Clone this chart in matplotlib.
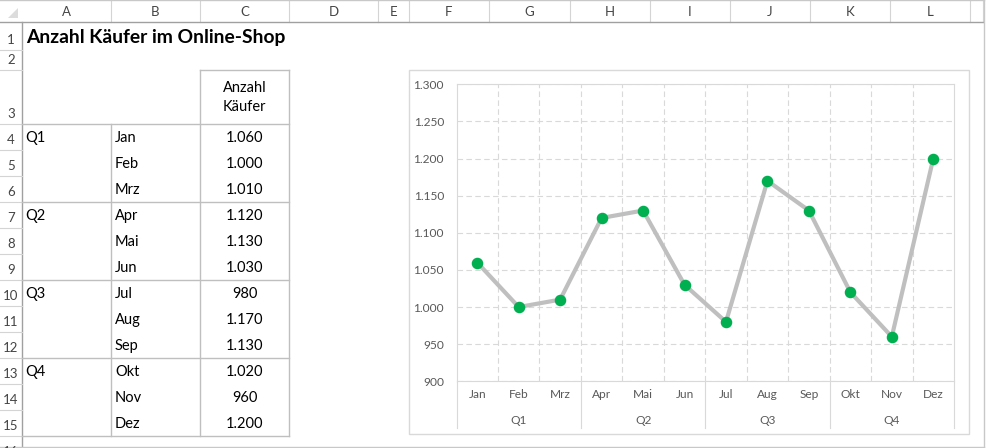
import matplotlib
matplotlib.use("Agg")
import matplotlib.pyplot as plt
import matplotlib.transforms as mtransforms
from matplotlib.patches import Rectangle, Polygon

plt.rcParams['font.family'] = ['Lato', 'DejaVu Sans']

# data
title = "Anzahl Käufer im Online-Shop"
header = ["Anzahl", "Käufer"]
quarters = ["Q1", "Q2", "Q3", "Q4"]
months = ["Jan", "Feb", "Mrz", "Apr", "Mai", "Jun",
          "Jul", "Aug", "Sep", "Okt", "Nov", "Dez"]
buyers = [1060, 1000, 1010, 1120, 1130, 1030,
          980, 1170, 1130, 1020, 960, 1200]
col_letters = ["A", "B", "C", "D", "E", "F", "G", "H", "I", "J", "K", "L"]
y_ticks = [900, 950, 1000, 1050, 1100, 1150, 1200, 1250, 1300]


def de(v):
    return "{:,}".format(v).replace(",", ".")


W, H = 986, 448
fig = plt.figure(figsize=(W / 100, H / 100), dpi=100)
bg = fig.add_axes([0, 0, 1, 1])
bg.set_xlim(0, W)
bg.set_ylim(H, 0)
bg.axis("off")

# sheet geometry (pixels)
col_edges = [22, 111, 200, 289, 378, 409, 489, 570, 650, 730, 810, 890, 970]
row_edges = [22, 50, 70, 123.7, 149.7, 175.7, 201.7, 227.7, 253.7, 279.7,
             305.7, 331.7, 357.7, 383.7, 409.7, 435.7, 461.7]
light = "#d4d4d4"
dark = "#a0a0a0"
hdr_txt = "#444444"

# column header
for i, c in enumerate(col_letters):
    bg.text((col_edges[i] + col_edges[i + 1]) / 2, 12.5, c, ha="center",
            va="center", fontsize=9.5, color=hdr_txt)
for x in col_edges[1:] + [983]:
    bg.plot([x, x], [1, 22], color=light, lw=0.8)
bg.plot([0, 983], [22, 22], color=dark, lw=1)
bg.plot([22, 22], [22, 448], color=dark, lw=1)
bg.add_patch(Polygon([[18, 8], [18, 18], [8, 18]], closed=True,
                     color="#dcdcdc", lw=0))
# row header (last row is only partly visible)
for r in range(len(row_edges) - 1):
    top, bot = row_edges[r], row_edges[r + 1]
    bg.plot([0, 22], [bot, bot], color=light, lw=0.8)
    yy = bot - 9.5 if r < 15 else 446
    bg.text(11, yy, str(r + 1), ha="center",
            va="center" if r < 15 else "top",
            fontsize=9.5, color=hdr_txt, clip_on=True)
# window frame
bg.plot([0, 984], [0.5, 0.5], color="#c8c8c8", lw=1)
bg.plot([984, 984], [0, 447], color="#c8c8c8", lw=1)
bg.plot([0, 984], [447, 447], color="#c8c8c8", lw=1)

# title
bg.text(26, 38, title, ha="left", va="center", fontsize=13.9,
        fontweight="bold", color="black")

# table
tbl = "#bfbfbf"
c_left, c_right = col_edges[2], col_edges[3]
c_mid = (c_left + c_right) / 2
bg.text(c_mid, 88, header[0], ha="center", va="center", fontsize=10.5)
bg.text(c_mid, 107, header[1], ha="center", va="center", fontsize=10.5)
bg.plot([c_left, c_right], [70, 70], color=tbl, lw=1)
bg.plot([c_left, c_left], [70, 435.7], color=tbl, lw=1)
bg.plot([c_right, c_right], [70, 435.7], color=tbl, lw=1)
bg.plot([col_edges[1], col_edges[1]], [123.7, 435.7], color=tbl, lw=1)
for q in range(len(quarters)):
    y0 = row_edges[3 + 3 * q]
    bg.plot([22, c_right], [y0, y0], color=tbl, lw=1)
bg.plot([22, c_right], [435.7, 435.7], color=tbl, lw=1)
for i, m in enumerate(months):
    bot = row_edges[4 + i]
    if i % 3 == 0:
        bg.text(25, bot - 12, quarters[i // 3], ha="left", va="center",
                fontsize=10.5)
    bg.text(115, bot - 12, m, ha="left", va="center", fontsize=10.5)
    bg.text(c_mid, bot - 12, de(buyers[i]), ha="center", va="center",
            fontsize=10.5)

# chart frame
bg.add_patch(Rectangle((409, 70.5), 560, 364, fill=False,
                       edgecolor="#d9d9d9", lw=1))

# plot area
pl, pr, pt, pb = 456.5, 954, 84.3, 381.3
ax = fig.add_axes([pl / W, (H - pb) / H, (pr - pl) / W, (pb - pt) / H])
x = list(range(len(months)))
ax.plot(x, buyers, color="#bfbfbf", lw=3, solid_capstyle="butt", zorder=3)
ax.plot(x, buyers, "o", color="#00b050", markersize=7.3, mec="#00b050",
        zorder=4)
ax.set_xlim(-0.5, len(months) - 0.5)
ax.set_ylim(y_ticks[0], y_ticks[-1])
ax.set_yticks(y_ticks)
ax.set_yticklabels([de(v) for v in y_ticks])
ax.set_xticks(x)
ax.set_xticklabels(months)
ax.set_xticks([i + 0.5 for i in x[:-1]], minor=True)
ax.tick_params(axis="both", which="both", length=0, labelsize=8.6,
               labelcolor="#595959")
ax.tick_params(axis="y", pad=9)
ax.tick_params(axis="x", pad=5.5)
ax.grid(True, axis="y", which="major", color="#d9d9d9", lw=0.8,
        linestyle=(0, (5, 3)))
ax.grid(True, axis="x", which="minor", color="#d9d9d9", lw=0.8,
        linestyle=(0, (5, 3)))
for s in ax.spines.values():
    s.set_color("#d9d9d9")
    s.set_linewidth(0.8)

trans = mtransforms.blended_transform_factory(ax.transData, ax.transAxes)
q_depth = (428 - pb) / (pb - pt)
q_text = (420 - pb) / (pb - pt)
for q in range(len(quarters)):
    ax.text(3 * q + 1, -q_text, quarters[q], transform=trans, ha="center",
            va="center", fontsize=8.6, color="#595959")
for b in range(len(quarters) + 1):
    ax.plot([3 * b - 0.5, 3 * b - 0.5], [0, -q_depth], transform=trans,
            color="#d9d9d9", lw=0.8, clip_on=False)

fig.savefig("out.png", dpi=100)
